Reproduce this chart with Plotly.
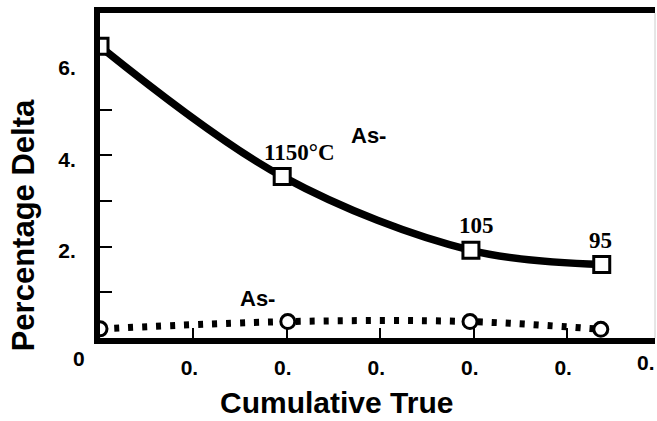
import plotly.graph_objects as go

# Upper curve (square markers)
strain_sq = [0.0, 0.195, 0.397, 0.537]
delta_sq = [6.39, 3.54, 1.92, 1.61]
temp_labels = ["1150°C", "105", "95"]

# Lower curve (circle markers)
strain_ci = [0.0, 0.201, 0.396, 0.536]
delta_ci = [0.20, 0.36, 0.36, 0.19]

x_tickvals = [0.1, 0.2, 0.3, 0.4, 0.5]
x_ticktext = ["0.", "0.", "0.", "0.", "0."]
y_tickvals = [2, 4, 6]
y_ticktext = ["2.", "4.", "6."]
y_minor_ticks = [1, 2, 3, 4, 5]

SANS = "Liberation Sans, Arial, sans-serif"
SERIF = "Liberation Serif, Times New Roman, serif"


def sans(size):
    return dict(family=SANS, size=size, color="black", weight="bold")


def serif(size):
    return dict(family=SERIF, size=size, color="black", weight="bold")


fig = go.Figure()

fig.add_trace(go.Scatter(
    x=strain_ci, y=delta_ci, mode="lines",
    line=dict(color="black", width=7, dash="5px,9px", shape="spline", smoothing=1.0),
    hoverinfo="skip", showlegend=False))
fig.add_trace(go.Scatter(
    x=strain_ci, y=delta_ci, mode="markers",
    marker=dict(symbol="circle", size=14, color="white", line=dict(color="black", width=3)),
    showlegend=False))

fig.add_trace(go.Scatter(
    x=strain_sq, y=delta_sq, mode="lines",
    line=dict(color="black", width=7.5, shape="spline", smoothing=1.0),
    hoverinfo="skip", showlegend=False))
fig.add_trace(go.Scatter(
    x=strain_sq, y=delta_sq, mode="markers",
    marker=dict(symbol="square", size=16, color="white", line=dict(color="black", width=3)),
    showlegend=False))

PW, PH = 555, 324.5  # plot-area size in px, for paper-referenced text

annotations = [
    dict(x=0.214, y=4.07, text=temp_labels[0], font=serif(23)),
    dict(x=0.403, y=2.47, text=temp_labels[1], font=serif(23)),
    dict(x=0.536, y=2.14, text=temp_labels[2], font=serif(23)),
    dict(x=0.287, y=4.44, text="As-", font=sans(22)),
    dict(x=0.169, y=0.87, text="As-", font=sans(22)),
    dict(xref="paper", yref="paper", x=(79 - 100) / PW, y=(337.5 - 357.5) / PH,
         text="0", font=sans(21)),
    dict(xref="paper", yref="paper", x=(646 - 100) / PW, y=(337.5 - 362) / PH,
         text="0.", font=sans(21)),
    dict(xref="paper", yref="paper", x=(336 - 100) / PW, y=(337.5 - 402) / PH,
         text="Cumulative True", font=sans(30)),
    dict(xref="paper", yref="paper", x=(23 - 100) / PW, y=(337.5 - 225) / PH,
         text="Percentage Delta", textangle=-90, font=sans(31)),
]
for a in annotations:
    a.setdefault("xref", "x")
    a.setdefault("yref", "y")
    a.update(showarrow=False, xanchor="center", yanchor="middle")

fig.update_layout(
    width=657, height=421,
    margin=dict(l=100, r=2, t=13, b=83),
    paper_bgcolor="white", plot_bgcolor="white",
    annotations=annotations,
    shapes=[dict(type="line", xref="paper", yref="paper", x0=1, x1=1, y0=0, y1=1,
                 line=dict(color="#cccccc", width=1))],
    xaxis=dict(
        range=[0, 0.594], showgrid=False, zeroline=False,
        showline=True, linewidth=6, linecolor="black", mirror=True,
        tickmode="array", tickvals=x_tickvals, ticktext=x_ticktext,
        ticks="inside", ticklen=10, tickwidth=1.5, tickcolor="black",
        ticklabelshift=-4, ticklabelstandoff=6,
        tickfont=sans(21),
    ),
    yaxis=dict(
        range=[0, 7.12], showgrid=False, zeroline=False,
        showline=True, linewidth=6, linecolor="black",
        tickmode="array", tickvals=y_tickvals, ticktext=y_ticktext,
        ticks="", ticklabelshift=4, ticklabelstandoff=14,
        minor=dict(tickmode="array", tickvals=y_minor_ticks, ticks="inside",
                   ticklen=12, tickwidth=1.5, tickcolor="black", showgrid=False),
        tickfont=sans(21),
    ),
)

fig.write_html("out.html")
